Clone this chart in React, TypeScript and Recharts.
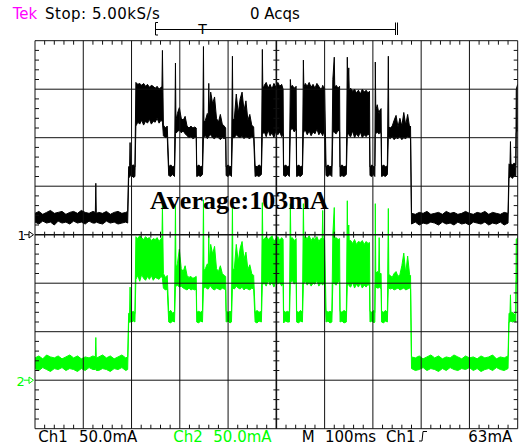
import React from 'react';
import { ComposedChart, Area, XAxis, YAxis, ReferenceLine } from 'recharts';

// sample times over the 1 s record (10 div x 100 ms), ms
const timeMs = [
  0, 8, 16, 24, 32, 40, 48, 56, 64, 72, 80, 88, 96, 104, 112, 120, 125, 126, 127, 132, 140, 148, 156, 164, 172, 180, 188, 192,
  194, 196, 197, 198, 200, 204, 207,
  209, 213, 217, 221, 225, 229, 233, 237, 241, 245, 249, 253, 257, 261, 263, 264,
  266, 270, 274, 277, 281, 285, 289,
  291, 292, 295, 299, 303, 307, 311, 315, 319, 323, 327, 331, 334, 335, 339, 343, 347,
  349, 350, 353, 357, 359, 360, 361, 364, 368, 372, 376, 380, 384, 388, 392, 395, 396, 400, 404, 407,
  409, 410, 413, 417, 421, 425, 429, 433, 437, 441, 445, 449, 453, 456, 460, 464, 469,
  471, 472, 475, 479, 483, 487, 491, 495, 499, 503, 507, 511, 514, 515, 519, 523, 527,
  529, 530, 533, 537, 541, 542, 546, 550, 554,
  556, 557, 560, 564, 568, 572, 576, 580, 584, 588, 592, 595, 596, 597, 600, 603, 607, 611, 615,
  617, 620, 621, 624, 628, 631, 632, 636, 640, 645,
  647, 648, 650, 651, 654, 658, 662, 666, 670, 674, 678, 682, 686, 690, 693, 694, 698, 702, 704,
  705, 706, 709, 712, 713, 714, 717, 718, 722, 726, 730,
  732, 733, 736, 740, 744, 748, 752, 756, 760, 764, 768, 772, 776, 778,
  780, 788, 796, 804, 812, 820, 828, 836, 844, 852, 860, 868, 876, 884, 892, 900, 908, 916, 924, 932, 940, 948, 956, 964, 972, 980,
  982, 984, 985, 986, 989, 993, 996, 997, 1000,
];

// Ch1 current, [min, max] per sample, mA
const ch1mA = [
  [13, 22], [11, 24], [14, 21], [12, 23], [13, 25], [10, 22], [14, 23], [12, 24], [13, 21], [11, 23], [14, 24], [12, 22], [13, 25],
  [11, 23], [14, 22], [12, 24], [12, 23], [13, 53], [13, 22], [12, 23], [11, 22], [14, 24], [12, 21], [13, 23], [11, 24], [12, 22],
  [13, 23], [12, 24],
  [58, 70], [60, 71], [60, 95], [61, 70], [61, 71], [59, 72], [60, 70],
  [112, 157], [116, 155], [114, 156], [118, 154], [113, 156], [117, 153], [115, 155], [119, 152], [114, 154], [117, 153], [116, 151],
  [120, 153], [115, 150], [118, 152], [117, 153], [116, 190],
  [102, 113], [100, 110], [101, 112], [61, 70], [60, 72], [62, 70], [60, 71],
  [104, 177], [105, 118], [106, 125], [108, 131], [105, 120], [107, 118], [104, 122], [102, 112], [100, 110], [101, 112], [99, 110],
  [100, 111], [101, 110], [60, 70], [61, 72], [60, 70], [62, 71],
  [100, 194], [101, 116], [102, 118], [99, 125], [100, 122], [101, 156], [102, 128], [103, 147], [100, 135], [99, 142], [101, 120],
  [100, 116], [98, 124], [100, 114], [99, 112], [100, 110], [61, 70], [60, 72], [62, 70], [60, 71],
  [101, 184], [100, 118], [100, 120], [103, 145], [101, 125], [100, 140], [102, 147], [99, 128], [101, 138], [100, 118], [99, 124],
  [101, 113], [100, 111], [60, 71], [61, 70], [60, 72], [62, 70],
  [103, 191], [104, 150], [106, 154], [101, 157], [108, 151], [102, 155], [105, 150], [100, 156], [107, 152], [103, 157], [106, 153],
  [101, 155], [104, 150], [61, 70], [60, 72], [62, 70], [60, 71],
  [107, 160], [108, 152], [110, 154], [106, 151], [109, 153], [60, 70], [61, 72], [60, 70], [62, 71],
  [104, 180], [106, 152], [108, 156], [103, 153], [107, 157], [102, 152], [106, 155], [104, 151], [109, 156], [103, 153], [106, 150],
  [103, 152], [102, 154], [104, 153], [105, 151], [61, 70], [60, 72], [62, 70], [60, 71],
  [105, 160], [107, 183], [105, 152], [104, 154], [108, 151], [106, 153], [60, 70], [61, 72], [60, 70], [62, 71],
  [102, 183], [103, 150], [105, 172], [102, 149], [101, 151], [107, 148], [100, 150], [104, 146], [101, 149], [106, 145], [100, 150],
  [103, 147], [101, 149], [104, 146], [102, 148], [61, 70], [60, 72], [62, 70], [60, 71],
  [103, 178], [104, 128], [106, 134], [104, 126], [104, 125], [105, 128], [105, 130], [60, 70], [61, 72], [60, 70], [62, 71],
  [100, 184], [100, 111], [99, 110], [101, 112], [98, 118], [100, 123], [99, 111], [101, 120], [98, 112], [100, 126], [99, 113],
  [101, 124], [100, 111], [99, 112],
  [11, 22], [13, 21], [10, 23], [12, 22], [11, 24], [13, 21], [12, 22], [10, 23], [13, 21], [11, 24], [12, 22], [10, 23], [13, 21],
  [11, 22], [12, 24], [10, 22], [13, 21], [12, 23], [11, 22], [13, 24], [10, 21], [12, 23], [11, 22], [13, 21], [10, 23], [12, 22],
  [59, 73], [59, 72], [60, 96], [60, 73], [58, 72], [61, 74], [60, 72], [105, 150], [108, 155],
];

// Ch2 current, [min, max] per sample, mA
const ch2mA = [
  [12, 23], [10, 25], [13, 22], [11, 26], [9, 24], [12, 23], [11, 25], [13, 22], [10, 24], [12, 26], [11, 23], [9, 25], [12, 22],
  [10, 24], [13, 23], [11, 25], [11, 24], [12, 44], [10, 23], [10, 24], [12, 26], [11, 23], [9, 25], [12, 22], [11, 24], [13, 26],
  [10, 23], [11, 24],
  [59, 69], [60, 70], [60, 96], [60, 70], [60, 70], [61, 71], [60, 69],
  [104, 148], [108, 146], [102, 149], [109, 147], [105, 145], [103, 148], [107, 146], [104, 147], [108, 144], [103, 146], [106, 145],
  [105, 147], [104, 143], [107, 146], [106, 146], [105, 180],
  [95, 110], [93, 106], [94, 108], [60, 70], [59, 72], [61, 69], [60, 71],
  [96, 180], [97, 115], [98, 120], [96, 135], [97, 115], [95, 112], [94, 118], [93, 108], [95, 106], [93, 107], [94, 105],
  [93, 106], [94, 107], [60, 70], [59, 71], [61, 70], [60, 72],
  [95, 186], [95, 113], [96, 115], [94, 120], [94, 117], [95, 150], [96, 122], [97, 140], [94, 130], [93, 138], [95, 115],
  [94, 112], [93, 118], [95, 110], [94, 108], [93, 107], [60, 71], [61, 70], [59, 71], [60, 70],
  [96, 182], [95, 114], [94, 115], [97, 140], [95, 122], [94, 136], [96, 143], [93, 125], [95, 132], [94, 114], [93, 119],
  [95, 110], [94, 108], [60, 70], [59, 72], [61, 70], [60, 71],
  [98, 183], [99, 144], [100, 146], [97, 148], [103, 145], [98, 147], [101, 149], [96, 143], [102, 146], [99, 148], [101, 144],
  [97, 147], [100, 145], [59, 72], [61, 70], [60, 71], [60, 70],
  [100, 182], [101, 146], [103, 147], [99, 144], [102, 146], [60, 71], [59, 70], [61, 72], [60, 70],
  [98, 182], [100, 145], [102, 148], [98, 146], [101, 149], [97, 144], [100, 147], [99, 145], [103, 148], [97, 143], [100, 146],
  [99, 146], [98, 175], [99, 147], [101, 144], [60, 72], [61, 70], [59, 71], [60, 70],
  [99, 150], [101, 178], [99, 146], [98, 147], [102, 145], [100, 146], [60, 71], [61, 70], [59, 72], [60, 70],
  [97, 185], [98, 143], [100, 160], [97, 144], [96, 144], [101, 141], [95, 145], [99, 140], [96, 143], [100, 142], [95, 144],
  [98, 140], [96, 143], [99, 141], [97, 142], [60, 71], [61, 70], [59, 72], [60, 70],
  [98, 182], [96, 110], [95, 112], [95, 111], [96, 147], [96, 110], [94, 110], [60, 71], [59, 70], [61, 72], [60, 70],
  [96, 177], [95, 109], [94, 108], [95, 106], [93, 110], [94, 112], [95, 107], [93, 109], [94, 118], [95, 131], [93, 110],
  [94, 128], [95, 109], [94, 108],
  [12, 24], [10, 23], [11, 25], [13, 22], [10, 24], [12, 26], [11, 23], [9, 25], [12, 22], [10, 24], [13, 23], [11, 26], [10, 24],
  [12, 22], [11, 25], [13, 23], [10, 24], [12, 22], [9, 25], [11, 23], [12, 24], [10, 26], [13, 22], [11, 24], [10, 23], [12, 25],
  [60, 69], [60, 69], [61, 88], [61, 70], [60, 70], [61, 68], [60, 69], [102, 145], [100, 147],
];

const mAPerDiv = 50;
const ch1Ground = 0; // divisions from screen centre
const ch2Ground = -3;

const xDivs = [0, 100, 200, 300, 400, 500, 600, 700, 800, 900, 1000];
const yDivs = [-4, -3, -2, -1, 0, 1, 2, 3, 4];

const W = 526;
const H = 447;
const margin = { top: 40.7, right: 8.3, bottom: 18.3, left: 35 };
const msPerPx = 1000 / (W - margin.left - margin.right);
const divPerPx = 8 / (H - margin.top - margin.bottom);

const GREEN = '#00ff00';
const FONT = '"DejaVu Sans", sans-serif';

const data = timeMs.map((t, i) => ({
  t,
  ch1: [ch1mA[i][0] / mAPerDiv + ch1Ground, ch1mA[i][1] / mAPerDiv + ch1Ground],
  ch2: [ch2mA[i][0] / mAPerDiv + ch2Ground, ch2mA[i][1] / mAPerDiv + ch2Ground],
}));

// minor graticule ticks (5 per division) on border and centre lines
const tickSegs: { x: number; y: number }[][] = [];
for (let k = 1; k < 50; k++) {
  if (k % 5 === 0) continue;
  const t = k * 20;
  tickSegs.push([{ x: t, y: 4 }, { x: t, y: 4 - 4 * divPerPx }]);
  tickSegs.push([{ x: t, y: -4 }, { x: t, y: -4 + 4 * divPerPx }]);
  tickSegs.push([{ x: t, y: -3 * divPerPx }, { x: t, y: 3 * divPerPx }]);
}
for (let k = 1; k < 40; k++) {
  if (k % 5 === 0) continue;
  const v = -4 + k * 0.2;
  tickSegs.push([{ x: 0, y: v }, { x: 4 * msPerPx, y: v }]);
  tickSegs.push([{ x: 1000, y: v }, { x: 1000 - 4 * msPerPx, y: v }]);
  tickSegs.push([{ x: 500 - 3 * msPerPx, y: v }, { x: 500 + 3 * msPerPx, y: v }]);
}

function Overlay() {
  const txt = { fontFamily: FONT, fontSize: 15 };
  return (
    <svg width={W} height={H} style={{ position: 'absolute', left: 0, top: 0, pointerEvents: 'none' }}>
      <text x={12.7} y={19} fill="#ff00ff" style={txt}>Tek</text>
      <text x={45} y={19} fill="#000" style={{ ...txt, letterSpacing: 0.5 }}>Stop: 5.00kS/s</text>
      <text x={250} y={19} fill="#000" style={txt}>0 Acqs</text>

      {/* record view bar */}
      <path d="M158,22.5 H155.5 V35 H158" stroke="#000" fill="none" />
      <line x1={155.5} y1={29.5} x2={395} y2={29.5} stroke="#000" />
      <path d="M395.5,22.5 V35 M397.5,22.5 V35" stroke="#000" fill="none" />
      <text x={202.5} y={34} textAnchor="middle" fill="#000" style={{ fontFamily: FONT, fontSize: 14 }}>T</text>

      {/* channel ground markers */}
      <text x={17.5} y={239.5} fill="#000" style={{ fontFamily: FONT, fontSize: 13 }}>1</text>
      <line x1={24} y1={234.7} x2={29} y2={234.7} stroke="#000" />
      <polygon points="29,231.5 33.5,234.7 29,238" fill="#fff" stroke="#000" />
      <text x={16.5} y={385.5} fill={GREEN} style={{ fontFamily: FONT, fontSize: 13 }}>2</text>
      <line x1={24} y1={380.2} x2={29} y2={380.2} stroke={GREEN} />
      <polygon points="29,377 33.5,380.2 29,383.5" fill="#fff" stroke={GREEN} />

      <text x={150} y={208.5} fill="#000"
        style={{ fontFamily: '"Liberation Serif", serif', fontWeight: 'bold', fontSize: 26 }}>
        Average:103mA
      </text>

      <text x={38.3} y={441.5} fill="#000" style={txt}>Ch1</text>
      <text x={79} y={441.5} fill="#000" style={txt}>50.0mA</text>
      <text x={173.3} y={441.5} fill={GREEN} style={txt}>Ch2</text>
      <text x={213.3} y={441.5} fill={GREEN} style={txt}>50.0mA</text>
      <text x={301.7} y={441.5} fill="#000" style={txt}>M</text>
      <text x={325} y={441.5} fill="#000" style={txt}>100ms</text>
      <text x={386} y={441.5} fill="#000" style={txt}>Ch1</text>
      <path d="M419,441 H422 L423,431.5 H427" stroke="#000" fill="none" />
      <text x={468.3} y={441.5} fill="#000" style={txt}>63mA</text>
    </svg>
  );
}

export default function App() {
  return (
    <div style={{ position: 'absolute', left: 0, top: 0, width: W, height: H, background: '#fff' }}>
      <ComposedChart width={W} height={H} data={data} margin={margin}>
        <XAxis dataKey="t" type="number" domain={[0, 1000]} hide allowDataOverflow />
        <YAxis type="number" domain={[-4, 4]} hide allowDataOverflow />
        <Area
          dataKey="ch1"
          type="linear"
          stroke="#000"
          strokeWidth={1}
          fill="#000"
          fillOpacity={1}
          isAnimationActive={false}
        />
        <Area
          dataKey="ch2"
          type="linear"
          stroke={GREEN}
          strokeWidth={1}
          fill={GREEN}
          fillOpacity={1}
          isAnimationActive={false}
        />
        {xDivs.map((t) => (
          <ReferenceLine key={'vx' + t} x={t} stroke="#111" strokeWidth={t === 500 ? 1.6 : 1} />
        ))}
        {yDivs.map((v) => (
          <ReferenceLine key={'hy' + v} y={v} stroke="#111" strokeWidth={v === 0 ? 1.6 : 1} />
        ))}
        {tickSegs.map((s, i) => (
          <ReferenceLine key={'tk' + i} segment={s} stroke="#111" strokeWidth={1} />
        ))}
      </ComposedChart>
      <Overlay />
    </div>
  );
}
